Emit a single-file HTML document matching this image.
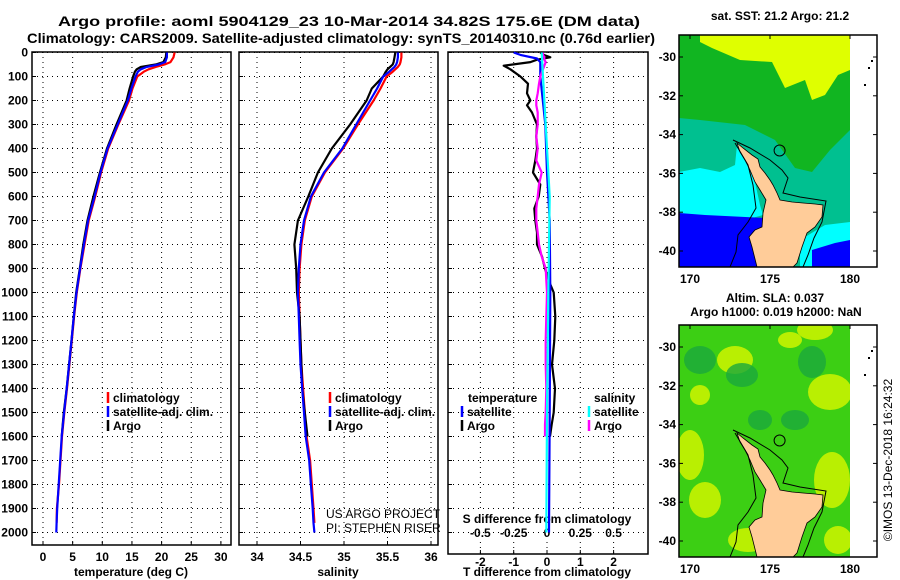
<!DOCTYPE html>
<html><head><meta charset="utf-8"><style>
html,body{margin:0;padding:0;background:#fff;}
svg{display:block;font-family:"Liberation Sans",sans-serif;}
</style></head><body>
<svg id="chart" width="900" height="580" viewBox="0 0 900 580" xmlns="http://www.w3.org/2000/svg">
<text x="58" y="26" font-size="14" font-weight="bold" textLength="582" lengthAdjust="spacingAndGlyphs">Argo profile: aoml 5904129_23 10-Mar-2014 34.82S 175.6E (DM data)</text>
<text x="27" y="43" font-size="14" font-weight="bold" textLength="628" lengthAdjust="spacingAndGlyphs">Climatology: CARS2009. Satellite-adjusted climatology: synTS_20140310.nc (0.76d earlier)</text>
<g id="panels"></g>
<g id="maps"></g>
<text transform="translate(892,460) rotate(-90)" text-anchor="middle" font-size="12">©IMOS 13-Dec-2018 16:24:32</text>
</svg>
<script>
// ---- data ----
const tDepth = [0,20,40,50,60,70,80,100,150,200,300,400,500,600,700,800,900,1000,1100,1200,1300,1400,1500,1600];
const tArgo = [20.8,20.7,20.3,19.0,16.5,15.8,15.5,15.2,14.6,14.1,12.4,10.8,9.6,8.5,7.5,6.8,6.2,5.6,5.2,4.8,4.4,4.0,3.5,3.15];
const sArgo = [35.59,35.58,35.57,35.56,35.53,35.5,35.48,35.45,35.32,35.26,35.07,34.86,34.70,34.59,34.47,34.43,34.45,34.46,34.49,34.5,34.51,34.52,34.55,34.58];
const climDepth = [0,20,40,50,60,70,80,100,150,200,300,400,500,600,700,800,900,1000,1100,1200,1300,1400,1500,1600,1700,1800,1900,1960];
const tClim = [22.2,22.0,21.5,20.5,19.0,17.8,17.0,15.9,15.1,14.5,12.7,11.0,9.8,8.8,7.7,7.0,6.3,5.7,5.25,4.85,4.45,4.05,3.6,3.2,2.95,2.7,2.35,2.3];
const sClim = [35.66,35.66,35.65,35.64,35.62,35.59,35.56,35.49,35.42,35.34,35.16,34.99,34.78,34.63,34.55,34.51,34.49,34.48,34.49,34.5,34.51,34.53,34.55,34.57,34.61,34.63,34.65,34.66];
const satDepth = [0,20,40,50,60,70,80,100,150,200,300,400,500,600,700,800,900,1000,1100,1200,1300,1400,1500,1600,1700,1800,1900,1960,2000];
const tSat = [20.9,20.9,20.6,19.5,17.5,16.5,16.0,15.6,14.9,14.3,12.6,10.9,9.7,8.7,7.6,6.9,6.25,5.65,5.2,4.8,4.4,4.0,3.55,3.15,2.9,2.65,2.4,2.3,2.25];
const sSat = [35.62,35.62,35.61,35.6,35.58,35.55,35.52,35.45,35.38,35.3,35.14,34.98,34.77,34.62,34.54,34.5,34.48,34.47,34.48,34.49,34.5,34.52,34.54,34.56,34.6,34.62,34.64,34.65,34.66];
const dDepth = [0,10,20,30,40,55,70,100,130,170,200,220,250,300,350,400,450,500,550,600,650,700,750,800,850,900,950,1000,1100,1200,1300,1400,1500,1550,1600];
const dTArgo = [-0.2,-0.1,0.1,-0.3,-0.5,-1.3,-1.1,-0.8,-0.57,-0.6,-0.5,-0.6,-0.45,-0.3,-0.32,-0.3,-0.35,-0.42,-0.2,-0.25,-0.38,-0.35,-0.3,-0.3,-0.15,-0.06,0.05,0.2,0.25,0.22,0.15,0.24,0.2,0.14,0.09];
const dSArgo = [-0.03,-0.03,-0.02,-0.02,-0.01,-0.02,-0.03,-0.05,-0.06,-0.07,-0.08,-0.08,-0.07,-0.07,-0.08,-0.07,-0.08,-0.04,-0.06,-0.07,-0.08,-0.08,-0.07,-0.06,-0.04,-0.01,-0.005,0.0,-0.005,-0.01,-0.01,-0.005,-0.01,-0.015,-0.015];
const dTSatDepth = [0,10,25,40,100,300,500,700,1000,1500,2000];
const dTSat = [-1.0,-0.8,-0.3,-0.2,-0.2,-0.05,0,0.08,0.1,0.08,0.06];
const dSSatDepth = [0,100,300,600,1000,1500,2000];
const dSSat = [-0.04,-0.03,-0.01,0.02,0.01,0.0,-0.005];
const depthTicks = [0,100,200,300,400,500,600,700,800,900,1000,1100,1200,1300,1400,1500,1600,1700,1800,1900,2000];
const tTicks = [0,5,10,15,20,25,30];
const sTicks = [34,34.5,35,35.5,36];
const sTickLabels = ['34','34.5','35','35.5','36'];
const dTTicks = [-2,-1,0,1,2];
const dSTicks = [-0.5,-0.25,0,0.25,0.5];
const dSTickLabels = ['-0.5','-0.25','0','0.25','0.5'];
const latTicks = [-30,-32,-34,-36,-38,-40];
const lonTicks = [170,175,180];

// ---- scales ----
const Y = z => 52.5 + 0.24*z;
const TX = t => 43 + 5.93*t;
const SX = s => 257 + 87*(s-34);
const DX = d => 547 + 33.3*d;
const SDX = s => 547 + 133.2*s;
const NS = 'http://www.w3.org/2000/svg';
function mk(tag, attrs, parent){const e=document.createElementNS(NS,tag);for(const k in attrs)e.setAttribute(k,attrs[k]);parent.appendChild(e);return e;}
const P = document.getElementById('panels');

function panel(name, x0, x1, bottom, xTicks, xs){
  const g = mk('g',{},P);
  
  
  depthTicks.forEach(d=>{
    const l = mk('line',{x1:x0,x2:x1,y1:Y(d),y2:Y(d),stroke:'#000','stroke-width':1,'stroke-dasharray':'1,4'},g);
    
    
    const t1 = mk('line',{x1:x0,x2:x0+4,y1:Y(d),y2:Y(d),stroke:'#000'},g);
    
    
  });
  xTicks.forEach(v=>{
    const l = mk('line',{x1:xs(v),x2:xs(v),y1:52,y2:bottom,stroke:'#000','stroke-width':1,'stroke-dasharray':'1,4'},g);
    
    
    const t1 = mk('line',{x1:xs(v),x2:xs(v),y1:bottom,y2:bottom-4,stroke:'#000'},g);
    
    
  });
  const r = mk('rect',{x:x0,y:52,width:x1-x0,height:bottom-52,fill:'none',stroke:'#000','stroke-width':1.5},g);
  
  
  return g;
}
function line(g, name, xs, vals, depths, color){
  const pts = vals.map((v,i)=>xs(v).toFixed(1)+','+Y(depths[i]).toFixed(1)).join(' ');
  const pl = mk('polyline',{points:pts,fill:'none',stroke:color,'stroke-width':2.2,'stroke-linejoin':'round'},g);
  
  
}
function txt(g, name, x, y, s, opts){
  const t = mk('text',Object.assign({x:x,y:y,'font-size':12,'font-weight':'bold'},opts||{}),g);
  t.textContent = s;
  
  
  return t;
}
function legend(g, x, y, color, label, name){
  const m = mk('line',{x1:x,x2:x,y1:y-10,y2:y+1,stroke:color,'stroke-width':2.5},g);
  
  
  txt(g, name, x+5, y, label);
}

// panel 1 temperature
const g1 = panel('temperature-panel', 32, 231, 545, tTicks, TX);
depthTicks.forEach(d=>txt(g1,'depth-label',28,Y(d)+4,String(d),{'text-anchor':'end'}));
tTicks.forEach(v=>txt(g1,'temp-tick-label',TX(v),561,String(v),{'text-anchor':'middle'}));
txt(g1,'x-axis-title-temperature',131,576,'temperature (deg C)',{'text-anchor':'middle'});
line(g1,'temp-climatology',TX,tClim,climDepth,'#ff0000');
line(g1,'temp-argo',TX,tArgo,tDepth,'#000000');
line(g1,'temp-satellite-adj',TX,tSat,satDepth,'#0000ff');
legend(g1,108,402,'#ff0000','climatology','legend-climatology');
legend(g1,108,416,'#0000ff','satellite-adj. clim.','legend-satellite-adj');
legend(g1,108,430,'#000000','Argo','legend-argo');

// panel 2 salinity
const g2 = panel('salinity-panel', 239, 438, 545, sTicks, SX);
sTicks.forEach((v,i)=>txt(g2,'sal-tick-label',SX(v),561,sTickLabels[i],{'text-anchor':'middle'}));
txt(g2,'x-axis-title-salinity',338,576,'salinity',{'text-anchor':'middle'});
line(g2,'sal-climatology',SX,sClim,climDepth,'#ff0000');
line(g2,'sal-argo',SX,sArgo,tDepth,'#000000');
line(g2,'sal-satellite-adj',SX,sSat,satDepth,'#0000ff');
legend(g2,330,402,'#ff0000','climatology','legend-climatology');
legend(g2,330,416,'#0000ff','satellite-adj. clim.','legend-satellite-adj');
legend(g2,330,430,'#000000','Argo','legend-argo');
txt(g2,'project-credit',326,518,'US ARGO PROJECT',{'font-weight':'normal','font-size':12});
txt(g2,'pi-credit',326,532,'PI: STEPHEN RISER',{'font-weight':'normal','font-size':12});

// panel 3 differences
const g3 = panel('difference-panel', 448, 648, 554, dTTicks, DX);
dTTicks.forEach(v=>txt(g3,'tdiff-tick-label',DX(v),566,String(v),{'text-anchor':'middle'}));
txt(g3,'x-axis-title-tdiff',547,576,'T difference from climatology',{'text-anchor':'middle'});
const sb = mk('rect',{x:455,y:512,width:186,height:28,fill:'#fff'},g3);


const gl = mk('line',{x1:448,x2:648,y1:Y(2000),y2:Y(2000),stroke:'#000','stroke-dasharray':'1,4'},g3);


txt(g3,'sdiff-axis-title',547,523,'S difference from climatology',{'text-anchor':'middle'});
dSTicks.forEach((v,i)=>txt(g3,'sdiff-tick-label',SDX(v),537,dSTickLabels[i],{'text-anchor':'middle'}));
line(g3,'tdiff-argo',DX,dTArgo,dDepth,'#000000');
line(g3,'tdiff-satellite',DX,dTSat,dTSatDepth,'#0000ff');
line(g3,'sdiff-argo',SDX,dSArgo,dDepth.slice(0,dSArgo.length),'#ff00ff');
line(g3,'sdiff-satellite',SDX,dSSat,dSSatDepth,'#00ffff');
txt(g3,'legend-temperature-heading',468,402,'temperature');
legend(g3,462,416,'#0000ff','satellite','legend-tdiff-satellite');
legend(g3,462,430,'#000000','Argo','legend-tdiff-argo');
txt(g3,'legend-salinity-heading',594,402,'salinity');
legend(g3,589,416,'#00ffff','satellite','legend-sdiff-satellite');
legend(g3,589,430,'#ff00ff','Argo','legend-sdiff-argo');

// ---- maps ----
const M = document.getElementById('maps');
const LX = lon => 690 + 16*(lon-170);
const LY = (lat,off) => off + 57 + 19.4*(-30-lat);
const landPts = [[737,143],[743,148],[752,155],[758,159],[760,167],[765,173],[770,180],[773,185],[777,193],[780,200],[792,202],[803,203],[815,204],[823,205],[822,217],[815,227],[807,233],[802,247],[797,263],[793,267],[757,267],[752,247],[749,237],[755,230],[762,227],[763,213],[766,200],[760,190],[755,182],[750,170],[745,160],[740,152]];
const contourPts = [[733,140],[750,148],[770,160],[782,170],[788,178],[783,193],[800,197],[826,201],[822,222],[814,238],[808,255],[803,267]];
const westPts = [[735,143],[748,165],[753,185],[756,208],[748,222],[738,235],[736,252],[730,267]];
function poly(g,name,pts,fill,off,extra){
  const p = mk('polygon',Object.assign({points:pts.map(q=>q[0]+','+(q[1]+off)).join(' '),fill:fill},extra||{}),g);
  
  
}
function pline(g,name,pts,off){
  const p = mk('polyline',{points:pts.map(q=>q[0]+','+(q[1]+off)).join(' '),fill:'none',stroke:'#000','stroke-width':1},g);
  
  
}
function mapFrame(g, off, name){
  const clip = mk('clipPath',{id:'clip'+off},g);
  mk('rect',{x:679,y:35+off,width:171,height:232},clip);
  const body = mk('g',{'clip-path':'url(#clip'+off+')'},g);
  
  
  return body;
}
function mapAxes(g, off){
  latTicks.forEach(la=>{
    txt(g,'lat-label',676,LY(la,off)+4,String(la),{'text-anchor':'end'});
    const a = mk('line',{x1:679,x2:683,y1:LY(la,off),y2:LY(la,off),stroke:'#000'},g);
    
    
    const b = mk('line',{x1:873,x2:877,y1:LY(la,off),y2:LY(la,off),stroke:'#000'},g);
    
    
  });
  lonTicks.forEach(lo=>{
    txt(g,'lon-label',LX(lo),283+off,String(lo),{'text-anchor':'middle'});
    const a = mk('line',{x1:LX(lo),x2:LX(lo),y1:35+off,y2:39+off,stroke:'#000'},g);
    
    
  });
  const r = mk('rect',{x:679,y:35+off,width:198,height:232,fill:'none',stroke:'#000','stroke-width':1.5},g);
  
  
  [[871,60],[868,67],[864,84]].forEach(q=>{
    const d = mk('rect',{x:q[0],y:q[1]+off,width:2,height:2,fill:'#000'},g);
    
    
  });
  const c = mk('circle',{cx:LX(175.6),cy:LY(-34.82,off),r:5.5,fill:'none',stroke:'#000'},g);
  
  
}

// top map: SST
const gm1 = mk('g',{},M);


txt(gm1,'sst-map-title',780,20,'sat. SST: 21.2 Argo: 21.2',{'text-anchor':'middle'});
const f1 = mapFrame(gm1,0,'sst');
poly(f1,'sst-teal',[[679,35],[850,35],[850,267],[679,267]],'#00c090',0);
poly(f1,'sst-green',[[679,35],[850,35],[850,130],[830,150],[812,172],[795,168],[775,140],[745,125],[700,120],[679,118]],'#11b521',0);
poly(f1,'sst-yellow',[[700,35],[850,35],[850,70],[838,75],[825,95],[812,100],[805,80],[785,88],[772,62],[740,60],[712,48],[700,42]],'#dfff00',0);
poly(f1,'sst-cyan-west',[[679,172],[700,168],[720,172],[735,165],[737,145],[748,158],[755,182],[760,205],[763,215],[745,220],[700,217],[679,215]],'#00ffff',0);
poly(f1,'sst-blue-west',[[679,213],[705,215],[765,218],[765,267],[679,267]],'#0000ff',0);
poly(f1,'sst-cyan-east',[[800,240],[825,225],[850,222],[850,267],[800,267]],'#00ffff',0);
poly(f1,'sst-blue-east',[[812,250],[835,243],[850,240],[850,267],[812,267]],'#0000ff',0);
poly(f1,'nz-land',landPts,'#ffcc99',0,{stroke:'#000','stroke-width':0.8});
pline(f1,'coast-contour',contourPts,0);
pline(f1,'west-contour',westPts,0);
mapAxes(gm1,0);

// bottom map: SLA
const off2 = 290;
const gm2 = mk('g',{},M);


txt(gm2,'sla-map-title-1',775,302,'Altim. SLA: 0.037',{'text-anchor':'middle'});
txt(gm2,'sla-map-title-2',776,316,'Argo h1000: 0.019 h2000: NaN',{'text-anchor':'middle'});
const f2 = mapFrame(gm2,off2,'sla');
poly(f2,'sla-base',[[679,35],[850,35],[850,267],[679,267]],'#3ccf14',off2);
[[735,360,18,14],[830,392,22,18],[815,330,18,10],[690,455,14,25],[705,500,16,18],[832,480,18,28],[748,540,20,12],[838,540,14,14],[700,395,10,10],[790,340,12,8]].forEach(b=>{
  const e = mk('ellipse',{cx:b[0],cy:b[1],rx:b[2],ry:b[3],fill:'#c6f200',opacity:0.9},f2);
  
  
});
[[700,360,16,14],[742,375,16,12],[812,362,14,16],[795,420,14,10],[760,420,12,10]].forEach(b=>{
  const e = mk('ellipse',{cx:b[0],cy:b[1],rx:b[2],ry:b[3],fill:'#1aa83c',opacity:0.8},f2);
  
  
});
poly(f2,'nz-land',landPts,'#ffcc99',off2,{stroke:'#000','stroke-width':0.8});
pline(f2,'coast-contour',contourPts,off2);
pline(f2,'west-contour',westPts,off2);
mapAxes(gm2,off2);
</script>
</body></html>
